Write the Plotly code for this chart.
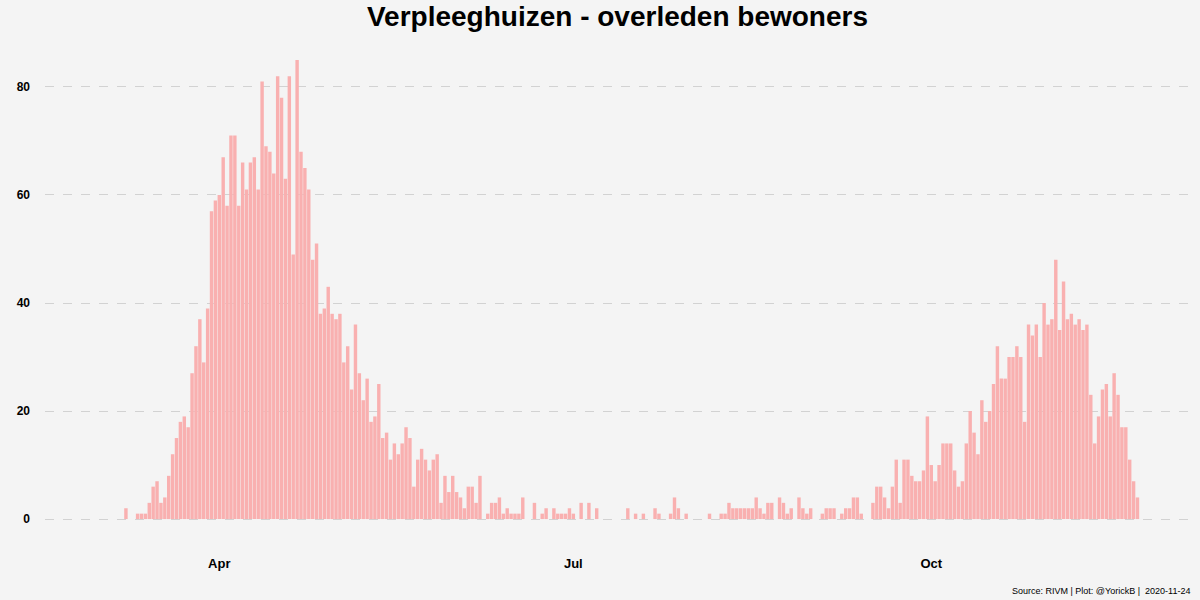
import pandas as pd
import plotly.graph_objects as go

start_date = "2020-03-08"
deaths = [
    2, 0, 0, 1, 1, 1, 3, 6, 7, 3, 4, 8, 12, 15, 18, 19, 17, 27, 32, 37,
    29, 39, 57, 59, 60, 67, 58, 71, 71, 58, 66, 61, 66, 67, 61, 81, 69, 68, 64, 82,
    78, 63, 82, 49, 85, 68, 65, 61, 48, 51, 38, 39, 43, 38, 37, 38, 29, 32, 24, 36,
    27, 22, 26, 18, 19, 25, 15, 16, 11, 14, 12, 14, 17, 15, 6, 11, 13, 11, 9, 11,
    12, 3, 8, 5, 8, 5, 4, 2, 6, 6, 3, 8, 0, 1, 3, 3, 4, 1, 2, 1,
    1, 1, 4, 0, 0, 3, 0, 1, 2, 0, 2, 1, 1, 1, 2, 1, 0, 3, 0, 3,
    0, 2, 0, 0, 0, 0, 0, 0, 0, 2, 0, 1, 0, 1, 0, 0, 2, 1, 0, 0,
    1, 4, 2, 0, 1, 0, 0, 0, 0, 0, 1, 0, 0, 1, 1, 3, 2, 2, 2, 2,
    2, 2, 4, 2, 1, 3, 3, 0, 4, 3, 1, 2, 0, 4, 2, 1, 2, 0, 0, 1,
    2, 2, 2, 0, 1, 2, 2, 4, 4, 1, 0, 0, 3, 6, 6, 4, 2, 6, 11, 3,
    11, 11, 8, 7, 7, 9, 19, 10, 7, 10, 14, 14, 14, 9, 6, 7, 14, 20, 16, 12,
    22, 18, 20, 25, 32, 26, 26, 30, 30, 32, 30, 18, 36, 34, 36, 30, 40, 36, 37, 48,
    35, 44, 37, 38, 36, 37, 35, 36, 23, 14, 19, 24, 25, 19, 27, 23, 17, 17, 11, 7,
    4,
]
tick_dates = ["2020-04-01", "2020-07-01", "2020-10-01"]
tick_labels = ["Apr", "Jul", "Oct"]
y_ticks = [0, 20, 40, 60, 80]

title_text = "Verpleeghuizen - overleden bewoners"
caption_text = "Source: RIVM | Plot: @YorickB |  2020-11-24"

dates = pd.date_range(start=start_date, periods=len(deaths), freq="D")

bg = "#F4F4F4"
font_family = "Liberation Sans, Arial, sans-serif"

fig = go.Figure()
fig.add_trace(go.Bar(
    x=dates,
    y=deaths,
    marker=dict(color="#F9B0B0", line=dict(width=0)),
    hovertemplate="%{x|%Y-%m-%d}: %{y}<extra></extra>",
))

x_lo = dates[0] - pd.Timedelta(days=20.8)
x_hi = dates[-1] + pd.Timedelta(days=13.5)

fig.update_layout(
    width=1200,
    height=600,
    paper_bgcolor=bg,
    plot_bgcolor=bg,
    margin=dict(l=45, r=10, t=37, b=58),
    bargap=0.12,
    showlegend=False,
    font=dict(family=font_family, color="black"),
    title=dict(
        text="<b>" + title_text + "</b>",
        x=(45 + 1190) / 2 / 1200,
        xanchor="center",
        y=1 - 16 / 600,
        yanchor="middle",
        font=dict(size=28, family=font_family, color="black"),
    ),
    xaxis=dict(
        type="date",
        range=[x_lo, x_hi],
        tickvals=tick_dates,
        ticktext=tick_labels,
        showgrid=False,
        zeroline=False,
        showline=False,
        ticks="",
        ticklabelstandoff=12,
        tickfont=dict(size=13, family=font_family, color="black", weight="bold"),
    ),
    yaxis=dict(
        range=[-4.25, 89.25],
        tickvals=y_ticks,
        showgrid=True,
        gridcolor="#D2D2D2",
        griddash="dash",
        gridwidth=1,
        zeroline=False,
        showline=False,
        ticks="",
        ticklabelstandoff=14,
        tickfont=dict(size=12, family=font_family, color="black", weight="bold"),
    ),
    annotations=[dict(
        text=caption_text,
        xref="paper", yref="paper",
        x=1.0, y=0,
        xanchor="right", yanchor="middle",
        xshift=2,
        yshift=-49,
        showarrow=False,
        font=dict(size=9, family=font_family, color="black"),
    )],
)

fig.write_html("out.html", config={"displayModeBar": False})

# remove the browser's default page margin so the figure sits at (0, 0)
with open("out.html", "r", encoding="utf-8") as f:
    html = f.read()
html = html.replace(
    "<head>",
    "<head><style>html,body{margin:0;padding:0;overflow:hidden;background:#F4F4F4;}</style>",
    1,
)
with open("out.html", "w", encoding="utf-8") as f:
    f.write(html)
